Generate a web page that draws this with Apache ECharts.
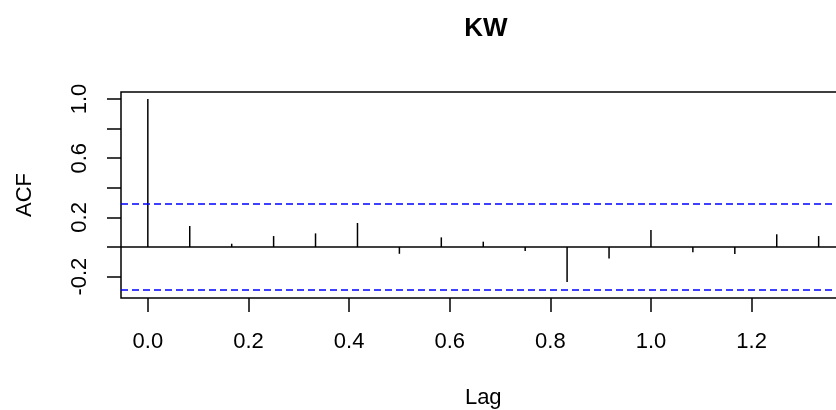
<!DOCTYPE html>
<html>
<head>
<meta charset="utf-8">
<script src="https://cdn.jsdelivr.net/npm/echarts@6/dist/echarts.min.js"></script>
<style>
html,body{margin:0;padding:0;background:#fff;}
#chart{width:836px;height:410px;}
</style>
</head>
<body>
<div id="chart"></div>
<script>
const title = 'KW';
const lags = [0, 0.0833, 0.1667, 0.25, 0.3333, 0.4167, 0.5, 0.5833, 0.6667, 0.75, 0.8333, 0.9167, 1.0, 1.0833, 1.1667, 1.25, 1.3333];
const acfValues = [1.0, 0.142, 0.022, 0.074, 0.092, 0.162, -0.046, 0.065, 0.036, -0.027, -0.236, -0.077, 0.115, -0.036, -0.047, 0.086, 0.074];
const ciBound = 0.2875;
const xTicks = [0, 0.2, 0.4, 0.6, 0.8, 1.0, 1.2];
const yTicks = [-0.2, 0, 0.2, 0.4, 0.6, 0.8, 1.0];
const yLabels = [-0.2, 0.2, 0.6, 1.0];

const FONT = '"Liberation Sans", Arial, sans-serif';
const chart = echarts.init(document.getElementById('chart'), null, {renderer: 'canvas'});
const points = lags.map((l, i) => [l, acfValues[i]]);

chart.setOption({
  animation: false,
  backgroundColor: '#fff',
  title: {
    text: title,
    left: 481,
    top: 11,
    textAlign: 'center',
    textStyle: {fontFamily: FONT, fontSize: 26, fontWeight: 'bold', color: '#000'}
  },
  grid: {
    left: 121, top: 92, width: 724.5, height: 206,
    containLabel: false, outerBoundsMode: 'none',
    show: true, borderColor: '#000', borderWidth: 1.5, backgroundColor: 'transparent'
  },
  xAxis: {
    type: 'value',
    min: -0.05333, max: 1.38667,
    name: 'Lag', nameLocation: 'middle', nameGap: 89,
    nameTextStyle: {fontFamily: FONT, fontSize: 22, color: '#000'},
    axisLine: {show: false, onZero: false},
    splitLine: {show: false},
    axisTick: {show: true, customValues: xTicks, length: 14, lineStyle: {color: '#000', width: 1.5}},
    axisLabel: {customValues: xTicks, margin: 33, fontFamily: FONT, fontSize: 22, color: '#000',
      formatter: v => v.toFixed(1)}
  },
  yAxis: {
    type: 'value',
    min: -0.3446, max: 1.0473,
    name: 'ACF', nameLocation: 'middle', nameGap: 85,
    nameTextStyle: {fontFamily: FONT, fontSize: 22, color: '#000'},
    axisLine: {show: false, onZero: false},
    splitLine: {show: false},
    axisTick: {show: true, customValues: yTicks, length: 14, lineStyle: {color: '#000', width: 1.5}},
    axisLabel: {customValues: yLabels, rotate: 90, margin: 30, fontFamily: FONT, fontSize: 22, color: '#000',
      formatter: v => v.toFixed(1)}
  },
  series: [{
    type: 'custom',
    data: points,
    renderItem: function (params, api) {
      const x = api.value(0), y = api.value(1);
      const p0 = api.coord([x, 0]);
      const p1 = api.coord([x, y]);
      return {type: 'line', shape: {x1: p0[0], y1: p0[1], x2: p1[0], y2: p1[1]},
        style: {stroke: '#000', lineWidth: 1.5}};
    },
    markLine: {
      silent: true, symbol: 'none', label: {show: false},
      data: [
        {yAxis: 0, lineStyle: {color: '#000', type: 'solid', width: 1.5}},
        {yAxis: ciBound, lineStyle: {color: '#0000ff', type: [7, 4], width: 1.5}},
        {yAxis: -ciBound, lineStyle: {color: '#0000ff', type: [7, 4], width: 1.5}}
      ]
    }
  }]
});
</script>
</body>
</html>
